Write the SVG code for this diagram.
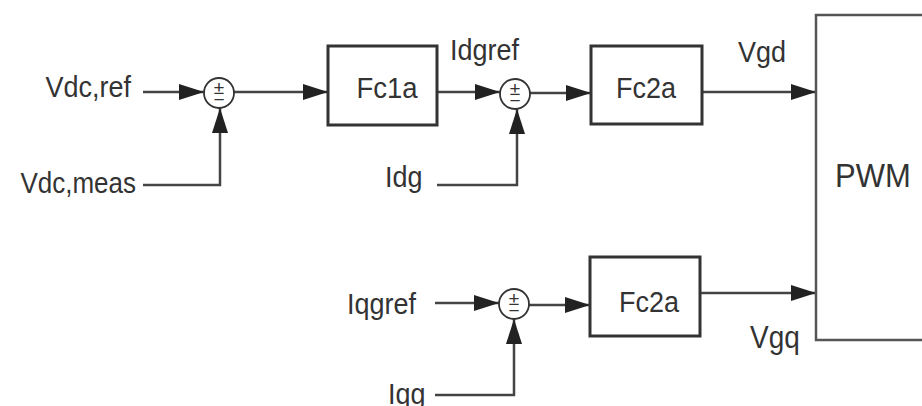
<svg xmlns="http://www.w3.org/2000/svg" width="922" height="406" viewBox="0 0 922 406">
<style>
.t{font-family:"Liberation Sans",Arial,sans-serif;fill:#333;font-size:27px}
.m{text-anchor:middle}
.e{text-anchor:end}
.box{fill:#fff;stroke:#333;stroke-width:3}
.sum{fill:#fff;stroke:#333;stroke-width:1.8}
.sg{font-family:"Liberation Sans",Arial,sans-serif;fill:#333;font-size:19px;text-anchor:middle}
.c{fill:none;stroke:#444;stroke-width:2.5}
</style>
<defs>
<marker id="arr" viewBox="0 0 25 16" refX="25" refY="8" markerWidth="25" markerHeight="16" markerUnits="userSpaceOnUse" orient="auto">
<path d="M0,0 L25,8 L0,16 z" fill="#222"/>
</marker>
</defs>
<rect width="922" height="406" fill="#fff"/>
<g id="connectors">
<path class="c" d="M143,92 H204" marker-end="url(#arr)"/>
<path class="c" d="M143,185 H220 V108" marker-end="url(#arr)"/>
<path class="c" d="M234,92 H328" marker-end="url(#arr)"/>
<path class="c" d="M437,92 H500" marker-end="url(#arr)"/>
<path class="c" d="M437,185 H517 V109" marker-end="url(#arr)"/>
<path class="c" d="M530,93 H591" marker-end="url(#arr)"/>
<path class="c" d="M702,92 H816" marker-end="url(#arr)"/>
<path class="c" d="M435,303 H499" marker-end="url(#arr)"/>
<path class="c" d="M435,395 H514 V319" marker-end="url(#arr)"/>
<path class="c" d="M529,305 H590" marker-end="url(#arr)"/>
<path class="c" d="M700,293 H816" marker-end="url(#arr)"/>
</g>
<g id="vdcref"><text class="t e" transform="translate(131,97) scale(1,1.1)">Vdc,ref</text></g>
<g id="vdcmeas"><text class="t e" style="font-size:26px" transform="translate(136,193) scale(1,1.1)">Vdc,meas</text></g>
<g id="sum1"><circle class="sum" cx="219" cy="93" r="15"/><text class="sg"><tspan x="219" y="94">±</tspan><tspan x="219" y="106">−</tspan></text></g>
<g id="fc1a"><rect class="box" x="328" y="46" width="109" height="79"/><text class="t m" style="font-size:27.5px" transform="translate(387,98) scale(1,1.1)">Fc1a</text></g>
<g id="idgref"><text class="t" transform="translate(450,60) scale(1,1.1)">Idgref</text></g>
<g id="idg"><text class="t" transform="translate(385,187) scale(1,1.1)">Idg</text></g>
<g id="sum2"><circle class="sum" cx="515" cy="94" r="15"/><text class="sg"><tspan x="515" y="95">±</tspan><tspan x="515" y="107">−</tspan></text></g>
<g id="fc2a_d"><rect class="box" x="591" y="46" width="111" height="78"/><text class="t m" transform="translate(646,98) scale(1,1.1)">Fc2a</text></g>
<g id="vgd"><text class="t" transform="translate(738,62) scale(1,1.1)">Vgd</text></g>
<g id="pwm"><rect x="816" y="15" width="130" height="325" fill="none" stroke="#555" stroke-width="2.5"/><text class="t" style="font-size:31px" transform="translate(835,187) scale(1,1.08)">PWM</text></g>
<g id="iqgref"><text class="t" transform="translate(347,314) scale(1,1.1)">Iqgref</text></g>
<g id="iqg"><text class="t" transform="translate(388,404) scale(1,1.1)">Iqg</text></g>
<g id="sum3"><circle class="sum" cx="514" cy="304" r="15"/><text class="sg"><tspan x="514" y="305">±</tspan><tspan x="514" y="317">−</tspan></text></g>
<g id="fc2a_q"><rect class="box" x="590" y="257" width="110" height="79"/><text class="t m" transform="translate(649,312) scale(1,1.1)">Fc2a</text></g>
<g id="vgq"><text class="t" style="font-size:28px" transform="translate(750,348) scale(1,1.1)">Vgq</text></g>
</svg>
